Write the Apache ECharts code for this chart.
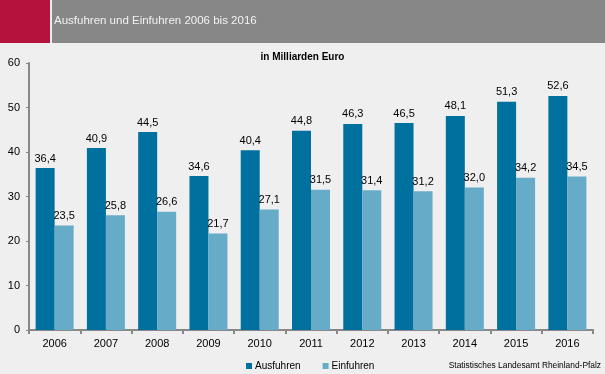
<!DOCTYPE html>
<html><head><meta charset="utf-8">
<script src="https://cdn.jsdelivr.net/npm/echarts@6/dist/echarts.min.js"></script>
<style>html,body{margin:0;padding:0;background:#EEEFEE;}#c{width:605px;height:374px;}</style>
</head><body><div id="c"></div>
<script>
const categories = ['2006','2007','2008','2009','2010','2011','2012','2013','2014','2015','2016'];
const ausfuhren = [36.4,40.9,44.5,34.6,40.4,44.8,46.3,46.5,48.1,51.3,52.6];
const einfuhren = [23.5,25.8,26.6,21.7,27.1,31.5,31.4,31.2,32.0,34.2,34.5];
const yTicks = [0,10,20,30,40,50,60];
const fmt = v => v.toFixed(1).replace('.', ',');
const chart = echarts.init(document.getElementById('c'), null, {renderer:'canvas'});
const F = 'Liberation Sans, Arial, sans-serif';
chart.setOption({
  backgroundColor:'#EEEFEE',
  animation:false,
  graphic:[
    {type:'rect', shape:{x:0,y:0,width:50,height:43}, style:{fill:'#B5123E'}},
    {type:'rect', shape:{x:52,y:0,width:553,height:43}, style:{fill:'#878787'}},
    {type:'text', left:54, top:15, style:{text:'Ausfuhren und Einfuhren 2006 bis 2016', fill:'#F2F2F2', font:'11.5px '+F}},
    {type:'text', left:'center', top:52, style:{text:'in Milliarden Euro', fill:'#000', font:'bold 10px '+F}},
    {type:'text', right:4, top:362, style:{text:'Statistisches Landesamt Rheinland-Pfalz', fill:'#000', font:'8.4px '+F}}
  ],
  legend:{
    data:['Ausfuhren','Einfuhren'], left:241, top:356, itemWidth:6, itemHeight:6, itemGap:22,
    icon:'rect', textStyle:{fontFamily:F, fontSize:10, color:'#000', padding:[0,0,0,-2]}
  },
  grid:{left:29, right:12, top:63, bottom:44, containLabel:false},
  xAxis:{
    type:'category', data:categories,
    axisLine:{lineStyle:{color:'#888', width:2}},
    axisTick:{show:true, length:4, lineStyle:{color:'#888', width:2}},
    axisLabel:{fontFamily:F, fontSize:11, color:'#000', margin:8}
  },
  yAxis:{
    type:'value', min:0, max:60, interval:10,
    axisLine:{show:true, lineStyle:{color:'#888', width:2}},
    axisTick:{show:true, length:3, lineStyle:{color:'#888'}},
    splitLine:{show:false},
    axisLabel:{fontFamily:F, fontSize:11, color:'#000', margin:9}
  },
  series:[
    {name:'Ausfuhren', type:'bar', data:ausfuhren, barWidth:19, barGap:'0%', itemStyle:{color:'#00709F'},
     label:{show:true, position:'top', distance:4, formatter:p=>fmt(p.value), fontFamily:F, fontSize:11, color:'#000'}},
    {name:'Einfuhren', type:'bar', data:einfuhren, barWidth:19, itemStyle:{color:'#66ABC8'},
     label:{show:true, position:'top', distance:4, formatter:p=>fmt(p.value), fontFamily:F, fontSize:11, color:'#000'}}
  ]
});
</script></body></html>
